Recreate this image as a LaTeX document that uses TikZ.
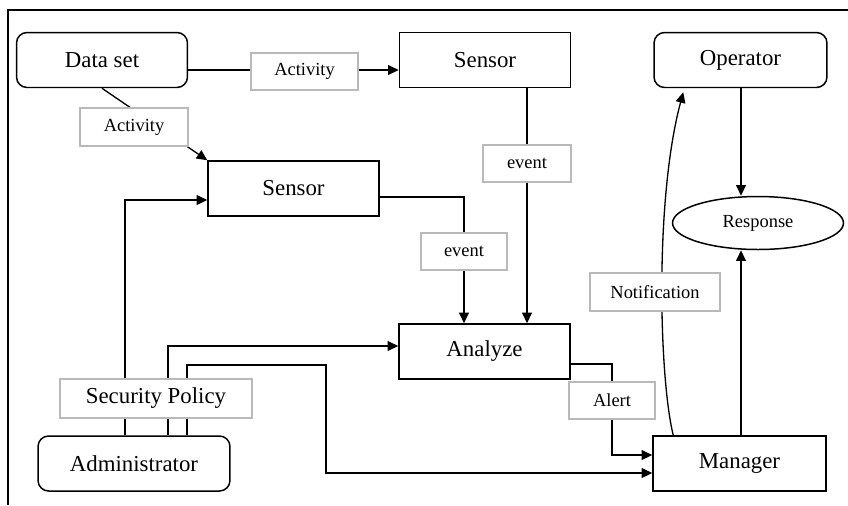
\documentclass[tikz,border=0pt]{standalone}
\usepackage{fontspec}
\setmainfont{Liberation Serif}
\usetikzlibrary{shapes.geometric,calc,arrows.meta}
\tikzset{
  unit/.style={draw,line width=0.85pt,fill=white,minimum width=3.42cm,minimum height=1.1cm,
    font=\fontsize{13}{15}\selectfont},
  soft/.style={unit,rounded corners=6pt},
  tag/.style={draw=gray!55,fill=white,line width=0.7pt,minimum height=0.74cm,
    font=\fontsize{10.5}{12}\selectfont},
  flow/.style={-{Triangle[length=6pt,width=5.5pt]},line width=0.75pt}
}
\begin{document}
\begin{tikzpicture}[x=0.02cm,y=-0.02cm]
\useasboundingbox (0,0) rectangle (848,505);
% frame
\draw[line width=1.3pt] (8,505) -- (8,10) -- (848,10);

% boxes
\node[soft] (dataset) at (102,60) {Data set};
\node[unit] (sensorA) at (485,60) {Sensor};
\node[unit] (sensorB) at (293.5,188.5) {Sensor};
\node[unit] (analyze) at (484.5,351.5) {Analyze};
\node[soft,minimum width=3.46cm] (operator) at (740.5,60) {Operator};
\node[unit,ellipse,inner sep=0pt,minimum height=1.06cm,font=\fontsize{10.5}{12}\selectfont] (response) at (758,223) {Response};
\node[unit,minimum width=3.46cm] (manager) at (739.5,463.5) {Manager};
\node[soft,minimum width=3.84cm] (admin) at (134,463.5) {Administrator};

% connectors
\draw[flow] ($(dataset.east)+(0,10)$) -- ($(sensorA.west)+(0,10)$);
\draw[flow] (dataset.south) -- (sensorB.north west);
\draw[flow] (sensorA.south -| 527,0) -- (analyze.north -| 527,0);
\draw[flow] ($(sensorB.east)+(0,8.5)$) -| (analyze.north -| 464,0);
\draw[flow] ($(admin.north)+(-9,0)$) |- ($(sensorB.west)+(0,11.5)$);
\draw[flow] ($(admin.north)+(34,0)$) |- ($(analyze.west)+(0,-5.5)$);
\draw[flow] ($(admin.north)+(53,0)$) |- (326,365) |- ($(manager.west)+(0,9.5)$);
\draw[flow] ($(analyze.east)+(0,12.5)$) -| (612,400) |- ($(manager.west)+(0,-8.5)$);
\draw[flow] (manager.north -| 741,0) -- (response.south -| 741,0);
\draw[flow] (operator.south -| 741,0) -- (response.north -| 741,0);
\draw[flow] ($(manager.north west)+(21,0)$) .. controls +(-14,-56) and +(-29,108) .. ($(operator.south west)+(30,4)$);

% labels on the connectors
\node[tag,minimum width=2.14cm] (actA) at (304.5,71.5) {Activity};
\node[tag,minimum width=2.16cm,minimum height=0.76cm] (actB) at (134,127) {Activity};
\node[tag,minimum width=1.76cm] (evA) at (527,163.5) {event};
\node[tag,minimum width=1.72cm] (evB) at (464,251.5) {event};
\node[tag,minimum width=3.84cm,minimum height=0.78cm,font=\fontsize{13}{15}\selectfont] (policy) at (156,398.5) {Security Policy};
\node[tag,minimum width=2.6cm,minimum height=0.76cm] (notif) at (655,292) {Notification};
\node[tag,minimum width=1.72cm] (alert) at (612,400.5) {Alert};
\end{tikzpicture}
\end{document}
